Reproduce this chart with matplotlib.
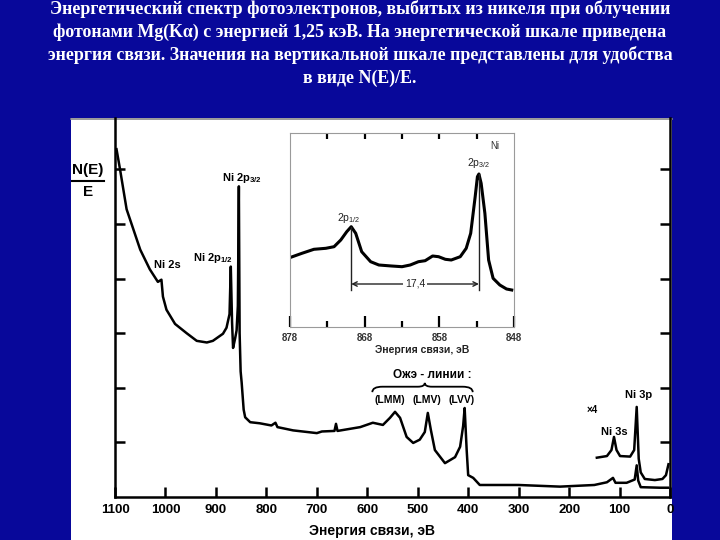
import matplotlib
matplotlib.use('Agg')
import matplotlib.pyplot as plt
from matplotlib.patches import Rectangle, PathPatch
from matplotlib.path import Path
from matplotlib.lines import Line2D
import numpy as np

plt.rcParams['mathtext.fontset'] = 'custom'
plt.rcParams['mathtext.rm'] = 'Liberation Sans'
plt.rcParams['mathtext.bf'] = 'Liberation Sans:bold'
plt.rcParams['font.family'] = ['Liberation Sans', 'DejaVu Sans']

BG = '#08089a'

# ---------------- data ----------------
title_lines = [
    "Энергетический спектр фотоэлектронов, выбитых из никеля при облучении",
    "фотонами Mg(Kα) с энергией 1,25 кэВ. На энергетической шкале приведена",
    "энергия связи. Значения на вертикальной шкале представлены для удобства",
    "в виде N(E)/E.",
]

# survey spectrum: binding energy (eV) and N(E)/E (arb. units)
main_ev = [1097, 1090, 1077, 1050, 1031, 1015, 1008, 1005, 998, 981, 958, 938,
           918, 906, 886, 879, 873, 870.5, 868, 866, 862, 859, 856.5, 854.5,
           853, 851, 849, 845, 842, 832, 813, 790, 782, 778, 747, 700, 690,
           665, 662, 659, 614, 589, 569, 555, 545, 535, 522, 509, 496, 486,
           480, 474, 466, 446, 426, 416, 410, 407, 403, 400, 390, 377, 300,
           218, 150, 125, 113, 108, 86, 70, 66, 63, 58, 20, 4]
main_y = [6.37, 6.00, 5.27, 4.53, 4.17, 3.94, 3.98, 3.67, 3.43, 3.17, 3.00, 2.86,
          2.83, 2.86, 2.99, 3.10, 3.35, 4.22, 3.20, 2.73, 2.90, 3.05, 3.50, 5.69,
          3.00, 2.30, 2.10, 1.60, 1.46, 1.37, 1.35, 1.31, 1.36, 1.28, 1.22, 1.17, 1.20,
          1.21, 1.34, 1.21, 1.28, 1.36, 1.32, 1.45, 1.56, 1.45, 1.10, 0.99, 1.05, 1.19,
          1.54, 1.23, 0.86, 0.62, 0.73, 0.92, 1.30, 1.63, 0.86, 0.40, 0.35, 0.22, 0.22,
          0.19, 0.22, 0.27, 0.35, 0.26, 0.26, 0.32, 0.58, 0.30, 0.18, 0.17, 0.17]

# x4 magnified low-energy part
x4_ev = [145, 125, 116, 111, 106, 99, 79, 71, 66, 62, 58, 50, 30, 15, 8, 3]
x4_y = [0.72, 0.75, 0.86, 1.10, 0.86, 0.75, 0.74, 0.86, 1.65, 0.70, 0.45, 0.33,
        0.31, 0.33, 0.40, 0.60]

# inset: Ni 2p region
inset_ev = [877.9, 876.4, 874.8, 873.2, 872.1, 871.2, 870.4, 869.8, 869.2, 868.4,
            867.2, 866.1, 864.4, 863.0, 861.9, 860.8, 859.9, 858.9, 858.1, 857.2,
            856.4, 855.2, 854.4, 853.8, 853.2, 852.9, 852.7, 852.4, 851.9, 851.4,
            850.8, 849.9, 849.0, 848.3]
inset_y = [0.697, 0.737, 0.777, 0.787, 0.803, 0.87, 0.953, 1.003, 0.937, 0.753,
           0.653, 0.62, 0.61, 0.603, 0.62, 0.653, 0.663, 0.71, 0.703, 0.677,
           0.67, 0.703, 0.787, 0.937, 1.303, 1.503, 1.53, 1.437, 1.137, 0.67,
           0.487, 0.42, 0.38, 0.37]
splitting_label = "17,4"

main_xticks = list(range(0, 1101, 100))
inset_major = [878, 868, 858, 848]
inset_minor = [873, 863, 853]
inset_top = [873, 868, 863, 858, 853]

# ---------------- figure ----------------
W, H = 720, 540
fig = plt.figure(figsize=(7.2, 5.4), dpi=100, facecolor=BG)

def fx(px):
    return px / W

def fy(py):
    return 1 - py / H

# white panel
panel = Rectangle((fx(71), 0), fx(672) - fx(71), fy(118), transform=fig.transFigure,
                  facecolor='white', edgecolor='none', zorder=-10)
fig.patches.append(panel)
fig.add_artist(Line2D([fx(71), fx(672)], [fy(118.5), fy(118.5)], color='#888888', lw=1.2,
                      zorder=-5))

# title
for i, line in enumerate(title_lines):
    fig.text(0.5, fy(9 + 23 * i), line, ha='center', va='center', color='white',
             fontsize=12.9, fontweight='bold', family=['Liberation Serif', 'DejaVu Serif'])

# main axes
ax = fig.add_axes([fx(115), fy(497), fx(670) - fx(115), fy(118) - fy(497)])
ax.set_zorder(1)
ax.patch.set_alpha(0)
ax.plot(main_ev, main_y, color='black', lw=1.8, solid_joinstyle='round')
ax.plot(x4_ev, x4_y, color='black', lw=1.8, solid_joinstyle='round')
ax.set_xlim(1100, 0)
ax.set_ylim(0, (497 - 118) / 54.6)
ax.spines['top'].set_visible(False)
for s in ['left', 'right', 'bottom']:
    ax.spines[s].set_linewidth(1.8)
ax.set_xticks(main_xticks)
ax.set_xticklabels([str(t) for t in main_xticks], fontsize=9.5, fontweight='bold')
ax.set_yticks([1, 2, 3, 4, 5, 6])
ax.set_yticklabels([])
ax.tick_params(axis='x', direction='in', length=7, width=1.8, pad=5)
ax.tick_params(axis='y', direction='in', length=7, width=1.8, left=True, right=True)

fig.text(fx(372), fy(531), 'Энергия связи, эВ', ha='center', va='center', fontsize=10,
         fontweight='bold')
fig.text(fx(88), fy(170), 'N(E)', ha='center', va='center', fontsize=11, fontweight='bold')
fig.add_artist(Line2D([fx(72), fx(104)], [fy(181), fy(181)], color='black', lw=1.5))
fig.text(fx(88), fy(192), 'E', ha='center', va='center', fontsize=11, fontweight='bold')

lab = dict(ha='center', va='center', fontsize=8, fontweight='bold')
ax.text(997, 4.25, 'Ni 2s', **lab)
ax.text(906, 4.38, r'Ni 2p$_{\mathbf{1/2}}$', **lab)
ax.text(848, 5.84, r'Ni 2p$_{\mathbf{3/2}}$', **lab)
ax.text(472, 2.23, 'Ожэ - линии :', ha='center', va='center', fontsize=8.5, fontweight='bold')
for name, xe in [('(LMM)', 555), ('(LMV)', 482), ('(LVV)', 414)]:
    ax.text(xe, 1.78, name, ha='center', va='center', fontsize=7.5, fontweight='bold')
ax.text(155, 1.59, '×4', ha='center', va='center', fontsize=7, fontweight='bold')
ax.text(111, 1.19, 'Ni 3s', **lab)
ax.text(63, 1.87, 'Ni 3p', **lab)

# brace over Auger lines
yb, yt, ye = 2.02, 2.09, 1.92
verts = [(590, ye), (590, yb), (570, yb), (500, yb), (486, yb), (486, yt),
         (486, yb), (472, yb), (411, yb), (391, yb), (391, ye)]
codes = [Path.MOVETO, Path.CURVE3, Path.CURVE3, Path.LINETO, Path.CURVE3, Path.CURVE3,
         Path.CURVE3, Path.CURVE3, Path.LINETO, Path.CURVE3, Path.CURVE3]
ax.add_patch(PathPatch(Path(verts, codes), facecolor='none', edgecolor='black', lw=1.3))

# inset
ax2 = fig.add_axes([fx(290), fy(327), fx(514) - fx(290), fy(133) - fy(327)])
ax2.set_zorder(2)
ax2.plot(inset_ev, inset_y, color='black', lw=2.2, solid_joinstyle='round')
ax2.set_xlim(878, 848)
ax2.set_ylim(0, (327 - 133) / 100)
for s in ax2.spines.values():
    s.set_color('#9a9a9a')
    s.set_linewidth(0.8)
ax2.set_xticks(inset_major)
ax2.set_xticklabels([str(t) for t in inset_major], fontsize=7, fontweight='bold', color='#333333')
ax2.set_xticks(inset_minor, minor=True)
ax2.set_yticks([])
ax2.tick_params(axis='x', which='major', direction='in', length=8, width=1.6, color='black', pad=4)
ax2.tick_params(axis='x', which='minor', direction='in', length=4.5, width=1.6, color='black')
sec = ax2.secondary_xaxis('top')
sec.set_xticks(inset_top)
sec.set_xticklabels([])
sec.tick_params(direction='in', length=4, width=1.6, color='black')
sec.spines['top'].set_visible(False)

fig.text(fx(422), fy(350), 'Энергия связи, эВ', ha='center', va='center', fontsize=7.5,
         fontweight='bold', color='#222222')

ev_arr = np.array(inset_ev)
y_arr = np.array(inset_y)
i32 = int(np.argmax(y_arr))
mask = ev_arr > 860
i12 = int(np.argmax(np.where(mask, y_arr, -1)))
x12, y12 = ev_arr[i12], y_arr[i12]
x32, y32 = ev_arr[i32], y_arr[i32]
ax2.plot([x12, x12], [0.37, y12], color='#222222', lw=1.0)
ax2.plot([x32, x32], [0.37, y32], color='#222222', lw=1.0)
ax2.annotate('', xy=(x32, 0.43), xytext=(x12, 0.43),
             arrowprops=dict(arrowstyle='<->', lw=1.0, color='#222222', mutation_scale=8,
                             shrinkA=0, shrinkB=0))
ax2.text((x12 + x32) / 2, 0.43, splitting_label, ha='center', va='center',
         fontsize=7.5, color='#222222', bbox=dict(facecolor='white', edgecolor='none', pad=1.5))
ax2.text(850.6, 1.81, 'Ni', ha='center', va='center', fontsize=7, color='#333333')
ax2.text(x32, 1.64, r'2p$_{3/2}$', ha='center', va='center', fontsize=7.5, color='#222222')
ax2.text(x12 + 0.3, 1.09, r'2p$_{1/2}$', ha='center', va='center', fontsize=7.5, color='#222222')

fig.savefig('out.png', dpi=100, facecolor=BG)
